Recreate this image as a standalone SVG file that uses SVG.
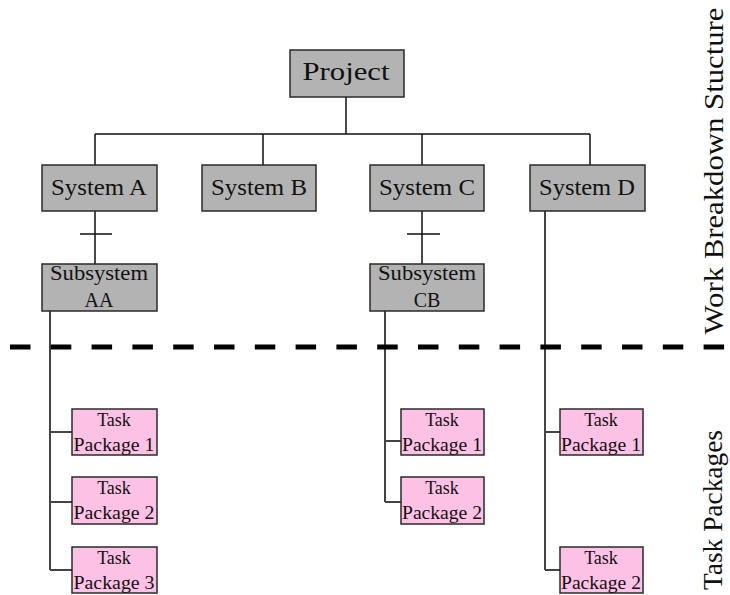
<svg xmlns="http://www.w3.org/2000/svg" width="730" height="595" viewBox="0 0 730 595">
<style>
.sys{fill:#b3b3b3;stroke:#2a2a2a;stroke-width:1.5}
.task{fill:#fdc1e6;stroke:#2a2a2a;stroke-width:1.5}
.t{font-family:"Liberation Serif","Times New Roman",serif;fill:#111;text-anchor:middle}
.ln{stroke:#111;stroke-width:1.5;fill:none}
.tl{stroke:#444;stroke-width:2;fill:none}
</style>
<rect width="730" height="595" fill="#fff"/>
<g id="connectors">
<path class="ln" d="M346 97V134M95 134H590M95 134V165M263 134V165M422 134V165M590 134V165"/>
<path class="ln" d="M95 211V264M80 234H112M422 211V264M407 234H440"/>
<path class="tl" d="M50 311V570M50 432H72M50 502H72M50 570H72"/>
<path class="tl" d="M385 311V502M385 441H401M385 502H401"/>
<path class="tl" d="M545 211V570M545 432H560M545 570H560"/>
</g>
<line x1="10" y1="347" x2="728" y2="347" stroke="#000" stroke-width="5" stroke-dasharray="20.5 20.3"/>
<g id="project"><rect class="sys" x="290" y="50" width="114" height="47"/><text class="t" x="346" y="80" font-size="26" textLength="87" lengthAdjust="spacingAndGlyphs">Project</text></g>
<g id="systemA"><rect class="sys" x="42" y="165" width="115" height="46"/><text class="t" x="99" y="195" font-size="23" textLength="96" lengthAdjust="spacingAndGlyphs">System A</text></g>
<g id="systemB"><rect class="sys" x="202" y="165" width="114" height="46"/><text class="t" x="259" y="195" font-size="23" textLength="96" lengthAdjust="spacingAndGlyphs">System B</text></g>
<g id="systemC"><rect class="sys" x="370" y="165" width="114" height="46"/><text class="t" x="427" y="195" font-size="23" textLength="96" lengthAdjust="spacingAndGlyphs">System C</text></g>
<g id="systemD"><rect class="sys" x="530" y="165" width="115" height="46"/><text class="t" x="587" y="195" font-size="23" textLength="96" lengthAdjust="spacingAndGlyphs">System D</text></g>
<g id="subAA"><rect class="sys" x="42" y="264" width="115" height="47"/><text class="t" x="99" y="280" font-size="20" textLength="98" lengthAdjust="spacingAndGlyphs">Subsystem</text><text class="t" x="99" y="307" font-size="20">AA</text></g>
<g id="subCB"><rect class="sys" x="370" y="264" width="114" height="47"/><text class="t" x="427" y="280" font-size="20" textLength="98" lengthAdjust="spacingAndGlyphs">Subsystem</text><text class="t" x="427" y="307" font-size="20">CB</text></g>
<g id="tpA1"><rect class="task" x="72" y="409" width="85" height="46"/><text class="t" x="114" y="426" font-size="18">Task</text><text class="t" x="114" y="451" font-size="18" textLength="81" lengthAdjust="spacingAndGlyphs">Package 1</text></g>
<g id="tpA2"><rect class="task" x="72" y="477" width="85" height="47"/><text class="t" x="114" y="494" font-size="18">Task</text><text class="t" x="114" y="519" font-size="18" textLength="81" lengthAdjust="spacingAndGlyphs">Package 2</text></g>
<g id="tpA3"><rect class="task" x="72" y="547" width="85" height="46"/><text class="t" x="114" y="564" font-size="18">Task</text><text class="t" x="114" y="589" font-size="18" textLength="81" lengthAdjust="spacingAndGlyphs">Package 3</text></g>
<g id="tpC1"><rect class="task" x="401" y="409" width="83" height="46"/><text class="t" x="442" y="426" font-size="18">Task</text><text class="t" x="442" y="451" font-size="18" textLength="80" lengthAdjust="spacingAndGlyphs">Package 1</text></g>
<g id="tpC2"><rect class="task" x="401" y="477" width="83" height="47"/><text class="t" x="442" y="494" font-size="18">Task</text><text class="t" x="442" y="519" font-size="18" textLength="80" lengthAdjust="spacingAndGlyphs">Package 2</text></g>
<g id="tpD1"><rect class="task" x="560" y="409" width="83" height="46"/><text class="t" x="601" y="426" font-size="18">Task</text><text class="t" x="601" y="451" font-size="18" textLength="80" lengthAdjust="spacingAndGlyphs">Package 1</text></g>
<g id="tpD2"><rect class="task" x="560" y="547" width="83" height="46"/><text class="t" x="601" y="564" font-size="18">Task</text><text class="t" x="601" y="589" font-size="18" textLength="80" lengthAdjust="spacingAndGlyphs">Package 2</text></g>
<text class="t" transform="translate(723 171) rotate(-90)" font-size="27" textLength="327" lengthAdjust="spacingAndGlyphs">Work Breakdown Stucture</text>
<text class="t" transform="translate(722 510) rotate(-90)" font-size="27" textLength="160" lengthAdjust="spacingAndGlyphs">Task Packages</text>
</svg>
